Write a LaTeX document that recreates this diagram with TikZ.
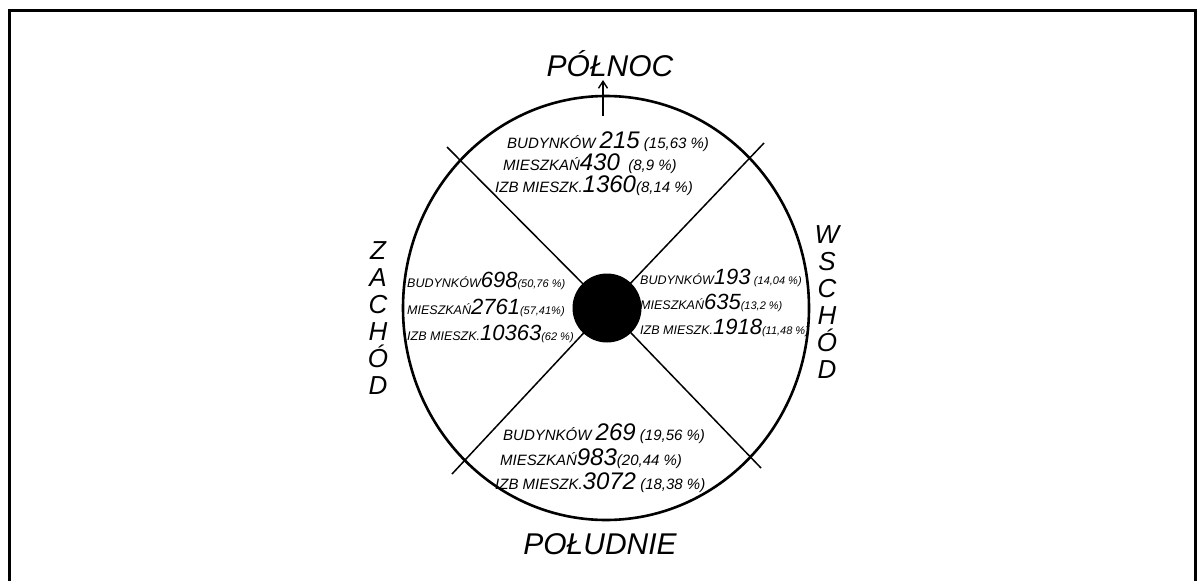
\documentclass[tikz,border=0pt]{standalone}
\usepackage{fontspec}
\setmainfont{Liberation Sans}
\usetikzlibrary{arrows.meta}
\newcommand{\dgt}[1]{{\fontsize{24}{24}\selectfont #1}}
\newcommand{\sdgt}[1]{{\fontsize{22}{22}\selectfont #1}}
\newcommand{\spct}[1]{{\fontsize{11}{11}\selectfont #1}}
\tikzset{
  rowtxt/.style={anchor=west, inner sep=0pt, font=\itshape\fontsize{15}{15}\selectfont},
  sidetxt/.style={anchor=west, inner sep=0pt, font=\itshape\fontsize{12.5}{12.5}\selectfont},
  dirlbl/.style={inner sep=0pt, font=\itshape\fontsize{30}{30}\selectfont},
  vertlbl/.style={inner sep=0pt, align=center, font=\itshape\fontsize{26}{27}\selectfont},
  spoke/.style={line width=1.5pt},
}
\begin{document}
\begin{tikzpicture}[x=1pt,y=-1pt]
\useasboundingbox (0,0) rectangle (1203,581);
% frame
\draw[line width=3pt] (9,584) -- (9,10) -- (1195,10) -- (1195,584);
% spokes
\coordinate (c) at (607,308);
\coordinate (nw) at (447,147);
\coordinate (ne) at (764,143);
\coordinate (sw) at (452,474);
\coordinate (se) at (761,468);
\draw[spoke] (c) -- (nw);
\draw[spoke] (c) -- (ne);
\draw[spoke] (c) -- (sw);
\draw[spoke] (c) -- (se);
% outer circle
\draw[line width=2.6pt] (606,308) ellipse [x radius=203, y radius=212];
% hub
\node[circle, fill=black, minimum size=69pt, inner sep=0pt] (hub) at (607,308) {};
% north arrow
\coordinate (arrS) at (603,116);
\coordinate (arrN) at (603,80);
\draw[line width=1.4pt, -{Straight Barb[length=7pt,width=9pt]}] (arrS) -- (arrN);
% direction labels
\node[dirlbl] (north) at (610,64) {PÓŁNOC};
\node[dirlbl] (south) at (600,544) {POŁUDNIE};
\node[vertlbl] (west) at (378,318) {Z\\A\\C\\H\\Ó\\D};
\node[vertlbl] (east) at (827,302) {W\\S\\C\\H\\Ó\\D};
% north block
\node[rowtxt] (n1) at (507,142) {BUDYNKÓW \dgt{215} (15,63 \%)};
\node[rowtxt] (n2) at (503,164) {MIESZKAŃ\dgt{430} \ (8,9 \%)};
\node[rowtxt] (n3) at (495,186) {IZB MIESZK.\dgt{1360}(8,14 \%)};
% south block
\node[rowtxt] (s1) at (503,434) {BUDYNKÓW \dgt{269} (19,56 \%)};
\node[rowtxt] (s2) at (500,459) {MIESZKAŃ\dgt{983}(20,44 \%)};
\node[rowtxt] (s3) at (495,483) {IZB MIESZK.\dgt{3072} (18,38 \%)};
% west block
\node[sidetxt] (w1) at (407,281) {BUDYNKÓW\sdgt{698}\spct{(50,76 \%)}};
\node[sidetxt] (w2) at (407,308) {MIESZKAŃ\sdgt{2761}\spct{(57,41\%)}};
\node[sidetxt] (w3) at (407,334) {IZB MIESZK.\sdgt{10363}\spct{(62 \%)}};
% east block
\node[sidetxt] (e1) at (640,278) {BUDYNKÓW\sdgt{193} \spct{(14,04 \%)}};
\node[sidetxt] (e2) at (640,303) {MIESZKAŃ\sdgt{635}\spct{(13,2 \%)}};
\node[sidetxt] (e3) at (640,328) {IZB MIESZK.\sdgt{1918}\spct{(11,48 \%)}};
\end{tikzpicture}
\end{document}
